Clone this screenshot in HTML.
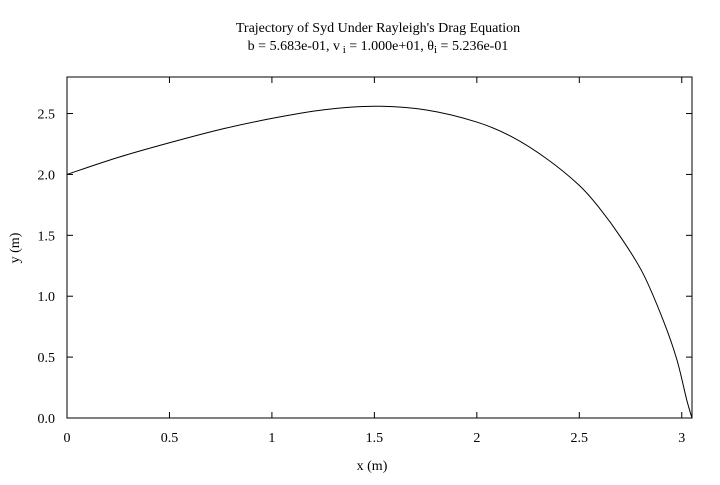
<!DOCTYPE html>
<html><head><meta charset="utf-8"><style>
body{margin:0;background:#fff;}
svg text{font-family:"Liberation Serif",serif;font-size:14px;fill:#000;}
</style></head><body>
<svg id="chart" width="720" height="480">
<text x="378" y="32" text-anchor="middle">Trajectory of Syd Under Rayleigh's Drag Equation</text>
<text x="378" y="50" text-anchor="middle">b = 5.683e-01, v<tspan dy="3" font-size="11"> i</tspan><tspan dy="-3"> = 1.000e+01,  θ</tspan><tspan dy="3" font-size="11">i</tspan><tspan dy="-3"> = 5.236e-01</tspan></text>
<text x="372" y="470" text-anchor="middle">x (m)</text>
<text x="19" y="248" text-anchor="middle" transform="rotate(-90 19 248)">y (m)</text>
<g id="axes"></g>
<path id="curve" fill="none" stroke="#000" stroke-width="1"></path>
<rect x="67" y="77" width="625" height="341" fill="none" stroke="#000" stroke-width="1"></rect>
</svg>
<script>
const xTicks=[0,0.5,1,1.5,2,2.5,3];
const xTickLabels=["0","0.5","1","1.5","2","2.5","3"];
const yTicks=[0,0.5,1,1.5,2,2.5];
const yTickLabels=["0.0","0.5","1.0","1.5","2.0","2.5"];
const xVals=[0,0.25,0.5,0.75,1.0,1.25,1.5,1.75,2.0,2.17,2.34,2.5,2.6,2.7,2.81,2.91,2.976,3.024,3.05];
const yVals=[2.0,2.14,2.26,2.37,2.46,2.53,2.56,2.53,2.43,2.31,2.13,1.91,1.72,1.49,1.19,0.80,0.48,0.15,0.0];
const L=67,R=692,T=77,B=418,XMAX=3.05,YMAX=2.8;
function sx(v){return L+v/XMAX*(R-L);}
function sy(v){return B-v/YMAX*(B-T);}
const ns="http://www.w3.org/2000/svg";
const g=document.getElementById('axes');
xTicks.forEach((v,i)=>{
  const x=sx(v);
  const t1=document.createElementNS(ns,'line');
  t1.setAttribute('x1',x);t1.setAttribute('x2',x);t1.setAttribute('y1',B);t1.setAttribute('y2',B-6);t1.setAttribute('stroke','#000');
  
  
  g.appendChild(t1);
  const t2=document.createElementNS(ns,'line');
  t2.setAttribute('x1',x);t2.setAttribute('x2',x);t2.setAttribute('y1',T);t2.setAttribute('y2',T+6);t2.setAttribute('stroke','#000');
  
  
  g.appendChild(t2);
  const tx=document.createElementNS(ns,'text');
  tx.setAttribute('x',x);tx.setAttribute('y',442);tx.setAttribute('text-anchor','middle');
  tx.textContent=xTickLabels[i];
  
  
  g.appendChild(tx);
});
yTicks.forEach((v,i)=>{
  const y=sy(v);
  const t1=document.createElementNS(ns,'line');
  t1.setAttribute('x1',L);t1.setAttribute('x2',L+6);t1.setAttribute('y1',y);t1.setAttribute('y2',y);t1.setAttribute('stroke','#000');
  
  
  g.appendChild(t1);
  const t2=document.createElementNS(ns,'line');
  t2.setAttribute('x1',R);t2.setAttribute('x2',R-6);t2.setAttribute('y1',y);t2.setAttribute('y2',y);t2.setAttribute('stroke','#000');
  
  
  g.appendChild(t2);
  const tx=document.createElementNS(ns,'text');
  tx.setAttribute('x',55);tx.setAttribute('y',y+5);tx.setAttribute('text-anchor','end');
  tx.textContent=yTickLabels[i];
  
  
  g.appendChild(tx);
});
const pts=xVals.map((v,i)=>[sx(v),sy(yVals[i])]);
let d='M'+pts[0][0]+','+pts[0][1];
for(let i=0;i<pts.length-1;i++){
  const p0=pts[Math.max(0,i-1)],p1=pts[i],p2=pts[i+1],p3=pts[Math.min(pts.length-1,i+2)];
  const c1=[p1[0]+(p2[0]-p0[0])/6,p1[1]+(p2[1]-p0[1])/6];
  const c2=[p2[0]-(p3[0]-p1[0])/6,p2[1]-(p3[1]-p1[1])/6];
  d+=' C'+c1[0]+','+c1[1]+' '+c2[0]+','+c2[1]+' '+p2[0]+','+p2[1];
}
document.getElementById('curve').setAttribute('d',d);
</script>
</body></html>
